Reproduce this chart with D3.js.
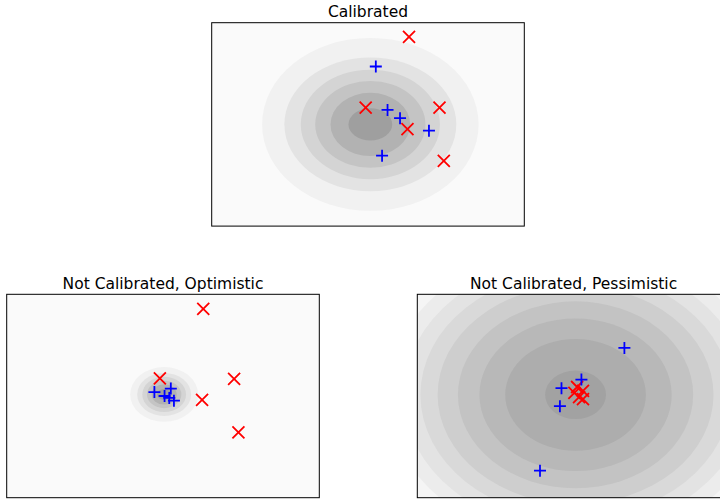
<!DOCTYPE html>
<html>
<head>
<meta charset="utf-8">
<script src="https://cdn.jsdelivr.net/npm/d3@7"></script>
<style>
  html, body { margin: 0; padding: 0; background: #fff; overflow: hidden; }
  text { font-family: "DejaVu Sans", sans-serif; }
</style>
</head>
<body>
<svg id="chart" width="720" height="499"></svg>
<script>
// ---------- data (data units) ----------
const titles = ["Calibrated", "Not Calibrated, Optimistic", "Not Calibrated, Pessimistic"];

const redCalibrated = [[1.05, 2.24], [-0.06, 0.43], [1.83, 0.43], [1.01, -0.12], [1.94, -0.93]];
const blueCalibrated = [[0.20, 1.48], [0.50, 0.37], [0.82, 0.16], [1.56, -0.16], [0.36, -0.80]];

const redOptimistic = [[1.03, 2.23], [-0.08, 0.45], [1.82, 0.44], [1.00, -0.10], [1.93, -0.93]];
const blueOptimistic = [[-0.22, 0.10], [0.20, 0.19], [0.04, 0.00], [0.16, -0.05], [0.28, -0.12]];

const redPessimistic = [[0.09, 0.23], [0.02, 0.08], [0.24, 0.13], [0.14, -0.03], [0.24, -0.08]];
const bluePessimistic = [[1.30, 1.23], [0.20, 0.42], [-0.31, 0.20], [-0.35, -0.26], [-0.86, -1.91]];

// contour band centres and semi-axes (outer -> inner)
const centerCalibrated = [0.06, 0.0];
const rxCalibrated = [2.77, 2.20, 1.78, 1.41, 1.02, 0.56];
const ryCalibrated = [2.21, 1.71, 1.40, 1.11, 0.81, 0.41];

const centerOptimistic = [0.03, 0.04];
const rxOptimistic = [0.87, 0.69, 0.56, 0.44, 0.32, 0.18];
const ryOptimistic = [0.70, 0.55, 0.45, 0.35, 0.26, 0.14];

const centerPessimistic = [0.05, 0.03];
const rxPessimistic = [4.81, 4.40, 3.97, 3.53, 3.01, 2.46, 1.80, 0.78];
const ryPessimistic = [3.81, 3.48, 3.15, 2.79, 2.39, 1.95, 1.43, 0.62];

const xDomain = [-4, 4];
const yDomain = [-2.6, 2.6];

// ---------- styles ----------
const shades6 = ["#f1f1f1", "#e3e3e3", "#d4d4d4", "#c4c4c4", "#b2b2b2", "#9f9f9f"];
const shades8 = ["#ececec", "#e3e3e3", "#d9d9d9", "#cecece", "#c3c3c3", "#b8b8b8", "#adadad", "#a2a2a2"];

const W = 312.6, H = 203.4;
const panels = [
  { title: titles[0], left: 211.7, top: 22.7, bg: "#fafafa", red: redCalibrated, blue: blueCalibrated,
    center: centerCalibrated, rx: rxCalibrated, ry: ryCalibrated, shades: shades6 },
  { title: titles[1], left: 6.7, top: 294.3, bg: "#fafafa", red: redOptimistic, blue: blueOptimistic,
    center: centerOptimistic, rx: rxOptimistic, ry: ryOptimistic, shades: shades6 },
  { title: titles[2], left: 417.3, top: 294.3, bg: "#f5f5f5", red: redPessimistic, blue: bluePessimistic,
    center: centerPessimistic, rx: rxPessimistic, ry: ryPessimistic, shades: shades8 }
];

const svg = d3.select("#chart");

panels.forEach((p, i) => {
  const x = d3.scaleLinear().domain(xDomain).range([0, W]);
  const y = d3.scaleLinear().domain(yDomain).range([H, 0]);
  const g = svg.append("g").attr("transform", `translate(${p.left},${p.top})`);

  const clipId = "clip" + i;
  g.append("clipPath").attr("id", clipId)
    .append("rect").attr("width", W).attr("height", H);

  const plot = g.append("g").attr("clip-path", `url(#${clipId})`);
  plot.append("rect").attr("width", W).attr("height", H).attr("fill", p.bg);

  const bands = p.rx.map((r, k) => ({ rx: r, ry: p.ry[k], fill: p.shades[k] }));
  plot.selectAll("ellipse.band").data(bands).enter().append("ellipse")
    .attr("class", "band")
    .attr("cx", x(p.center[0]))
    .attr("cy", y(p.center[1]))
    .attr("rx", d => x(d.rx) - x(0))
    .attr("ry", d => y(0) - y(d.ry))
    .attr("fill", d => d.fill);

  const s = 6;
  // red x markers
  plot.selectAll("path.red").data(p.red).enter().append("path")
    .attr("class", "red")
    .attr("transform", d => `translate(${x(d[0])},${y(d[1])})`)
    .attr("d", `M${-s},${-s}L${s},${s}M${-s},${s}L${s},${-s}`)
    .attr("stroke", "#ff0000").attr("stroke-width", 1.8).attr("fill", "none");
  // blue + markers
  plot.selectAll("path.blue").data(p.blue).enter().append("path")
    .attr("class", "blue")
    .attr("transform", d => `translate(${x(d[0])},${y(d[1])})`)
    .attr("d", `M${-s},0L${s},0M0,${-s}L0,${s}`)
    .attr("stroke", "#0000ff").attr("stroke-width", 1.8).attr("fill", "none");

  g.append("rect").attr("width", W).attr("height", H)
    .attr("fill", "none").attr("stroke", "#000").attr("stroke-width", 1);

  g.append("text")
    .attr("x", W / 2).attr("y", -5.5)
    .attr("text-anchor", "middle")
    .attr("font-size", "15.5px")
    .attr("fill", "#000")
    .text(p.title);
});
</script>
</body>
</html>
